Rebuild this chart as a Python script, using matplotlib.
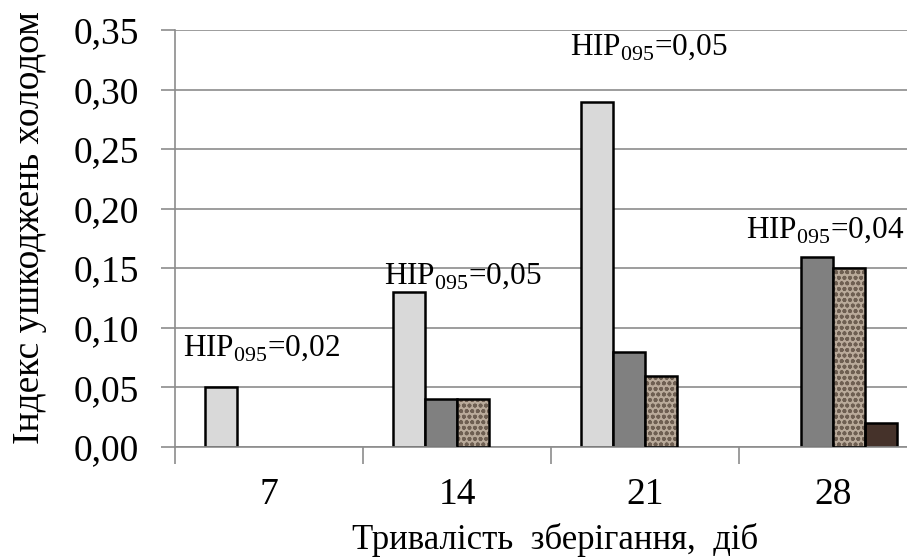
import matplotlib
matplotlib.use("Agg")
import matplotlib.pyplot as plt
import numpy as np

plt.rcParams['font.family'] = ['Liberation Serif', 'DejaVu Serif']
plt.rcParams['mathtext.fontset'] = 'custom'
plt.rcParams['mathtext.rm'] = 'Liberation Serif'
plt.rcParams['hatch.linewidth'] = 1.2

# дані
categories = ['7', '14', '21', '28']
s_light = [0.05, 0.13, 0.29, 0.0]
s_dark = [0.0, 0.04, 0.08, 0.16]
s_texture = [0.0, 0.04, 0.06, 0.15]
s_brown = [0.0, 0.0, 0.0, 0.02]
nir_labels = ['0,02', '0,05', '0,05', '0,04']
nir_x = [-0.04, 1.03, 2.02, 2.96]
nir_y = [0.083, 0.143, 0.336, 0.182]
yticks = [0.0, 0.05, 0.10, 0.15, 0.20, 0.25, 0.30, 0.35]

fig = plt.figure(figsize=(9.07, 5.6), dpi=100)
ax = fig.add_axes([0.193, 0.2018, 0.829, 0.744])

x = np.arange(len(categories))
w = 0.17
grey_line = '#8c8c8c'

ax.set_axisbelow(True)
for v in yticks:
    ax.axhline(v, color=grey_line, lw=1.2, zorder=0)

# порожні значення не малюємо
def draw(vals, off, color, hatch=None):
    for i in range(len(vals)):
        if vals[i] <= 0:
            continue
        if hatch:
            ax.bar(x[i] + off, vals[i], w, color=color, edgecolor='#6e5f52',
                   hatch=hatch, lw=0, zorder=2)
            ax.bar(x[i] + off, vals[i], w, fill=False, edgecolor='black',
                   lw=1.8, zorder=3)
        else:
            ax.bar(x[i] + off, vals[i], w, color=color, edgecolor='black',
                   lw=1.8, zorder=2)

draw(s_light, -1.5 * w, '#d9d9d9')
draw(s_dark, -0.5 * w, '#808080')
draw(s_texture, 0.5 * w, '#b9aa9a', hatch='ooo')
draw(s_brown, 1.5 * w, '#45322a')

for i in range(len(nir_labels)):
    ax.text(nir_x[i], nir_y[i], r'HIP$_{\mathrm{095}}$=' + nir_labels[i],
            ha='center', va='center', fontsize=22.5, zorder=4)

ax.set_xlim(-0.5, 3.5)
ax.set_ylim(0, 0.35)
ax.set_yticks(yticks)
ax.set_yticklabels([('%.2f' % v).replace('.', ',') for v in yticks], fontsize=27)
ax.tick_params(axis='y', length=10, color=grey_line, width=1.2, pad=16)

ax.set_xticks(x)
ax.set_xticklabels(categories, fontsize=27)
ax.set_xticks([-0.5, 0.5, 1.5, 2.5], minor=True)
ax.tick_params(axis='x', which='major', length=0, pad=22)
ax.tick_params(axis='x', which='minor', length=12, color=grey_line, width=1.2, direction='out')

for s in ['top', 'right']:
    ax.spines[s].set_visible(False)
ax.spines['left'].set_color(grey_line)
ax.spines['bottom'].set_color(grey_line)
ax.spines['left'].set_linewidth(1.2)
ax.spines['bottom'].set_linewidth(1.2)

fig.text(0.033, 0.593, 'Індекс ушкоджень холодом', rotation=90,
         ha='center', va='center', fontsize=27)
fig.text(0.612, 0.036, 'Тривалість  зберігання,  діб', ha='center',
         va='center', fontsize=25)

fig.savefig('out.png', dpi=100)
